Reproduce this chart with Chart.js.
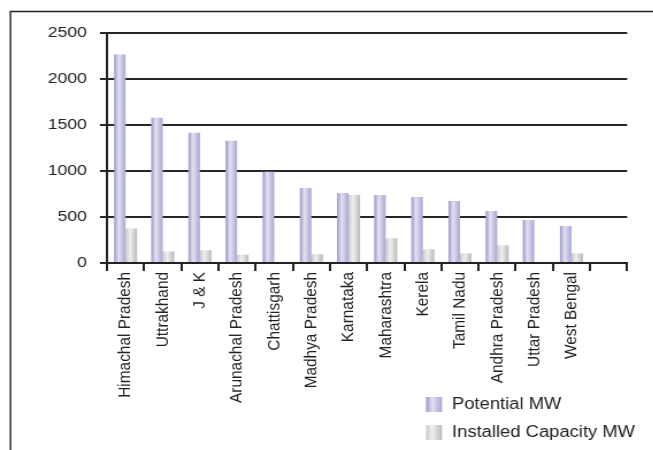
<!DOCTYPE html>
<html>
<head>
<meta charset="utf-8">
<script src="https://cdn.jsdelivr.net/npm/chart.js@4.4.1/dist/chart.umd.min.js"></script>
<style>
  html, body { margin: 0; padding: 0; background: #fff; overflow: hidden; }
  #wrap { width: 653px; height: 450px; }
  /* la figura original está algo estirada en horizontal */
  #grafica { transform: scaleX(1.15); transform-origin: 0 0; }
</style>
</head>
<body>
<div id="wrap"><canvas id="grafica" width="568" height="450"></canvas></div>
<script>
// Estados (el último hueco queda vacío, como en el original)
const estados = ['Himachal Pradesh', 'Uttrakhand', 'J & K', 'Arunachal Pradesh', 'Chattisgarh',
  'Madhya Pradesh', 'Karnataka', 'Maharashtra', 'Kerela', 'Tamil Nadu', 'Andhra Pradesh',
  'Uttar Pradesh', 'West Bengal', ''];
const potencial = [2265, 1580, 1415, 1330, 993, 815, 762, 740, 718, 675, 565, 467, 401, null];
const instalada = [375, 125, 138, 90, 0, 95, 740, 270, 150, 106, 194, 0, 106, null];
const nombresSeries = ['Potential MW', 'Installed Capacity MW'];
const ejeYMin = 0;
const ejeYMax = 2500;
const ejeYPaso = 500;

const K = 1.15; // estiramiento horizontal
const FUENTE = "'Liberation Sans', Arial, sans-serif";

// colores de degradado horizontal de cada serie (borde, brillo, borde)
const degradados = [
  ['#9a96c8', '#e2e2f4', '#a9a5d3'],
  ['#c9c9c9', '#f0f0f0', '#b9b9b9']
];

function degradado(ctx, x0, x1, cols) {
  const g = ctx.createLinearGradient(x0, 0, x1, 0);
  g.addColorStop(0, cols[0]);
  g.addColorStop(0.4, cols[1]);
  g.addColorStop(1, cols[2]);
  return g;
}

const pluginDegradado = {
  id: 'degradado',
  beforeDatasetsDraw(chart) {
    chart.data.datasets.forEach((ds, i) => {
      const meta = chart.getDatasetMeta(i);
      meta.data.forEach(el => {
        const { x, width } = el.getProps(['x', 'width'], true);
        if (!width) return;
        el.options.backgroundColor = degradado(chart.ctx, x - width / 2, x + width / 2, degradados[i]);
      });
    });
  }
};

// marco (izquierda y arriba) y leyenda vertical abajo a la derecha
const pluginMarco = {
  id: 'marco',
  beforeDraw(chart) {
    const ctx = chart.ctx;
    ctx.save();
    ctx.strokeStyle = '#222';
    ctx.lineWidth = 1.4;
    ctx.beginPath();
    ctx.moveTo(10.5 / K, 450);
    ctx.lineTo(10.5 / K, 11.5);
    ctx.lineTo(chart.width, 11.5);
    ctx.stroke();
    ctx.restore();
  },
  afterDraw(chart) {
    const ctx = chart.ctx;
    ctx.save();
    ctx.font = '16px ' + FUENTE;
    ctx.textBaseline = 'middle';
    const bx = 426 / K, bw = 16 / K;
    chart.data.datasets.forEach((ds, i) => {
      const y = 397 + i * 28;
      ctx.fillStyle = degradado(ctx, bx, bx + bw, degradados[i]);
      ctx.fillRect(bx, y, bw, 15);
      ctx.fillStyle = '#222';
      ctx.fillText(ds.label, 452 / K, y + 8);
    });
    ctx.restore();
  }
};

const ctx = document.getElementById('grafica').getContext('2d');
const chart = new Chart(ctx, {
  type: 'bar',
  data: {
    labels: estados,
    datasets: [
      { label: nombresSeries[0], data: potencial, backgroundColor: () => '#b8b5dd' },
      { label: nombresSeries[1], data: instalada, backgroundColor: () => '#dddddd' }
    ]
  },
  options: {
    responsive: false,
    devicePixelRatio: 1,
    animation: false,
    categoryPercentage: 0.62,
    barPercentage: 1,
    layout: { padding: { top: 33, right: 26 / K, bottom: 0, left: 0 } },
    plugins: {
      legend: { display: false },
      tooltip: { enabled: false }
    },
    scales: {
      x: {
        afterFit: s => { s.height = 187; },
        grid: {
          offset: true,
          drawOnChartArea: false,
          tickLength: 8,
          color: '#222',
          lineWidth: 2
        },
        border: { color: '#222', width: 2 },
        ticks: {
          autoSkip: false,
          minRotation: 90,
          maxRotation: 90,
          padding: 1,
          color: '#222',
          font: { family: FUENTE, size: 15.4 }
        }
      },
      y: {
        min: ejeYMin,
        max: ejeYMax,
        afterFit: s => { s.width = 107 / K; },
        grid: {
          color: '#262626',
          lineWidth: 2,
          tickLength: 7 / K
        },
        border: { color: '#222', width: 2 },
        ticks: {
          stepSize: ejeYPaso,
          padding: 13 / K,
          color: '#222',
          font: { family: FUENTE, size: 15.4 },
          callback: v => String(v)
        }
      }
    }
  },
  plugins: [pluginDegradado, pluginMarco]
});
</script>
</body>
</html>
